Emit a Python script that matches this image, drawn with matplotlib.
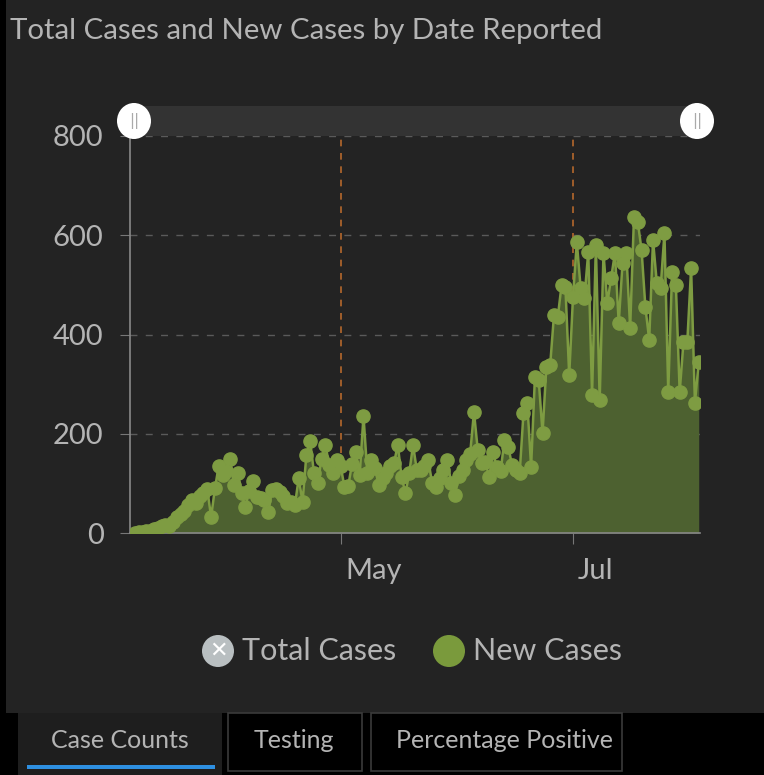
import numpy as np
import pandas as pd
import matplotlib
matplotlib.use("Agg")
import matplotlib.pyplot as plt
from matplotlib.patches import Rectangle, Ellipse

plt.rcParams['font.family'] = ['Lato', 'DejaVu Sans']

# daily new cases, starting 8 March
start_date = "2020-03-08"
new_cases = [
    1, 2, 2, 4, 5, 8, 10, 14, 16, 15, 22, 32, 38, 45, 56, 66, 60, 75, 80, 88,
    32, 90, 135, 117, 125, 149, 97, 121, 80, 52, 85, 105, 73, 70, 66, 42, 87, 88, 83, 75,
    60, 62, 56, 111, 62, 157, 185, 121, 101, 150, 177, 137, 120, 147, 135, 93, 95, 140, 163, 117,
    236, 121, 147, 130, 97, 110, 121, 135, 141, 177, 113, 80, 120, 177, 127, 127, 135, 147, 101, 93,
    110, 127, 147, 101, 77, 115, 127, 147, 160, 244, 167, 141, 143, 113, 163, 133, 125, 187, 173, 137,
    127, 121, 242, 262, 133, 314, 308, 201, 334, 338, 439, 435, 500, 496, 318, 476, 586, 494, 474, 566,
    278, 580, 268, 564, 463, 514, 564, 423, 544, 564, 413, 637, 627, 570, 455, 389, 590, 504, 494, 604,
    284, 526, 500, 284, 385, 385, 534, 262, 344,
]
dates = pd.date_range(start_date, periods=len(new_cases), freq="D")
month_ticks = pd.to_datetime(["2020-05-01", "2020-07-01"])
month_labels = ["May", "Jul"]
y_ticks = [0, 200, 400, 600, 800]
legend_labels = ["Total Cases", "New Cases"]
tab_labels = ["Case Counts", "Testing", "Percentage Positive"]

bg = "#232323"
txt = "#b4b4b4"
fill_green = "#4d6130"
line_green = "#7e9c42"

fig = plt.figure(figsize=(7.64, 7.75), dpi=100, facecolor=bg)
W, H = 764, 775

ax = fig.add_axes([130 / W, 1 - 533 / H, 570 / W, 397 / H])
ax.set_facecolor(bg)
ax.fill_between(dates, new_cases, color=fill_green, lw=0, zorder=2)
ax.plot(dates, new_cases, color=line_green, lw=1.8, marker="o", ms=9.5,
        mec=line_green, mfc=line_green, zorder=3)

ax.set_ylim(0, 800)
ax.set_xlim(dates[0] - pd.Timedelta(hours=31), dates[-1] + pd.Timedelta(hours=8))
ax.set_yticks(y_ticks)
ax.set_yticklabels([str(v) for v in y_ticks], fontsize=21, color=txt)
ax.tick_params(axis="y", length=7, color="#777777", pad=12)
for v in y_ticks[1:]:
    ax.axhline(v, color="#5a5a5a", lw=1, ls=(0, (5, 6)), zorder=1)

ax.set_xticks(month_ticks)
ax.set_xticklabels([])
ax.tick_params(axis="x", length=8, color="#777777")
for d, lab in zip(month_ticks, month_labels):
    ax.axvline(d, color="#b5682c", lw=1.2, ls=(0, (4, 4)), zorder=1)
    ax.text(d + pd.Timedelta(days=1.3), -0.095, lab, transform=ax.get_xaxis_transform(),
            fontsize=21, color=txt, ha="left", va="center")

for s in ["top", "right"]:
    ax.spines[s].set_visible(False)
for s in ["left", "bottom"]:
    ax.spines[s].set_color("#888888")
    ax.spines[s].set_linewidth(1.2)

# overlay for the dashboard decorations, in pixel units
ov = fig.add_axes([0, 0, 1, 1], zorder=5)
ov.set_xlim(0, W)
ov.set_ylim(H, 0)
ov.axis("off")
ov.patch.set_alpha(0)

ov.text(10, 31, "Total Cases and New Cases by Date Reported", fontsize=21.2,
        color=txt, ha="left", va="center")

# range slider
ov.add_patch(Rectangle((134, 106), 563, 30, color="#333333", lw=0))
for hx in [134, 697]:
    ov.add_patch(Ellipse((hx, 121), 34, 36, color="white", lw=0))
    ov.text(hx, 121, "||", fontsize=11, color="#aaaaaa", ha="center", va="center",
            family="DejaVu Sans")

# legend
ov.add_patch(Ellipse((218, 651), 32, 32, color="#b9bfc1", lw=0))
ov.text(218, 651, "\u2715", fontsize=16, color="white", ha="center", va="center",
        family="DejaVu Sans", weight="bold")
ov.text(242, 651, legend_labels[0], fontsize=22, color=txt, ha="left", va="center")
ov.add_patch(Ellipse((449, 651), 32, 32, color="#7a9a3c", lw=0))
ov.text(473, 651, legend_labels[1], fontsize=22, color=txt, ha="left", va="center")

# tabs strip
ov.add_patch(Rectangle((0, 713), W, 62, color="black", lw=0))
ov.add_patch(Rectangle((0, 0), 6, H, color="black", lw=0))
ov.add_patch(Rectangle((18, 713), 204, 62, color="#1e1e1e", lw=0))
ov.add_patch(Rectangle((27, 765), 188, 4, color="#2e8fe0", lw=0))
for x0, w in [(228, 134), (371, 251)]:
    ov.add_patch(Rectangle((x0, 713), w, 58, facecolor="black", edgecolor="#3a3a3a", lw=1.2))
tab_centers = [120, 294, 505]
for cx, lab in zip(tab_centers, tab_labels):
    ov.text(cx, 740, lab, fontsize=18, color=txt, ha="center", va="center")

fig.savefig("out.png", dpi=100, facecolor=bg)
